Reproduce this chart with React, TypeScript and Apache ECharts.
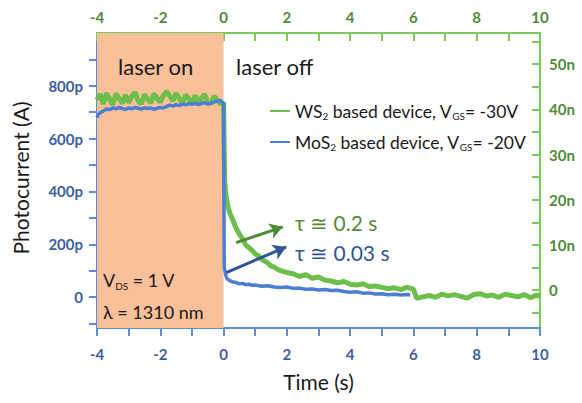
import React, { useEffect, useRef } from "react";
import * as echarts from "echarts";

// WS2 based device (right axis, nA)
const ws2Time = [
  -4, -3.9, -3.8, -3.7, -3.6, -3.5, -3.4, -3.3, -3.2, -3.1, -3, -2.9, -2.8, -2.7, -2.6, -2.5, -2.4, -2.3, -2.2, -2.1,
  -2, -1.9, -1.8, -1.7, -1.6, -1.5, -1.4, -1.3, -1.2, -1.1, -1, -0.9, -0.8, -0.7, -0.6, -0.5, -0.4, -0.3, -0.2, -0.1,
  0, 0.03, 0.06, 0.1, 0.15, 0.2, 0.3, 0.4, 0.5, 0.6, 0.7, 0.8, 0.9, 1, 1.1, 1.2, 1.3, 1.4, 1.5, 1.6, 1.7, 1.8, 1.9,
  2, 2.2, 2.4, 2.6, 2.8, 3, 3.2, 3.4, 3.6, 3.8, 4, 4.2, 4.4, 4.6, 4.8, 5, 5.2, 5.4, 5.6, 5.8, 6, 6.1, 6.3, 6.5,
  6.7, 6.9, 7.1, 7.3, 7.5, 7.7, 7.9, 8.1, 8.3, 8.5, 8.7, 8.9, 9.1, 9.3, 9.5, 9.7, 9.9, 10,
];
const ws2Current = [
  42.1, 43.4, 41.2, 43.6, 42.3, 41.0, 43.5, 42.4, 41.3, 43.2, 41.5, 42.9, 43.8, 41.9, 41.2, 43.3, 42.3, 41.4, 43.5, 42.4,
  41.6, 43.1, 44.0, 42.9, 41.9, 43.6, 42.4, 41.3, 43.2, 42.3, 41.4, 43.1, 41.2, 42.5, 43.3, 41.6, 41.3, 42.9, 42.1, 41.2,
  41.5, 25.0, 21.8, 19.8, 18.2, 17.0, 15.4, 13.6, 12.4, 11.3, 10.0, 9.4, 8.8, 8.0, 7.6, 6.8, 6.4, 6.0, 5.3, 5.1, 4.6, 4.3, 4.1,
  3.9, 3.6, 3.0, 3.4, 2.6, 2.9, 2.2, 2.0, 1.6, 1.9, 1.3, 1.1, 1.4, 0.8, 0.9, 0.6, 0.3, 0.5, 0.1, 0.6, 0.2, -1.8, -1.5, -1.2,
  -1.6, -0.9, -1.3, -1.0, -1.4, -1.8, -1.0, -0.8, -1.3, -1.1, -1.6, -0.9, -1.2, -1.5, -1.0, -1.7, -1.1, -1.4,
];

// MoS2 based device (left axis, pA)
const mos2Time = [
  -4, -3.95, -3.9, -3.8, -3.7, -3.6, -3.5, -3.4, -3.3, -3.2, -3.1, -3, -2.9, -2.8, -2.7, -2.6, -2.5, -2.4, -2.3, -2.2,
  -2.1, -2, -1.9, -1.8, -1.7, -1.6, -1.5, -1.4, -1.3, -1.2, -1.1, -1, -0.9, -0.8, -0.7, -0.6, -0.5, -0.4, -0.3, -0.2,
  -0.1, -0.04, 0, 0.02, 0.05, 0.08, 0.12, 0.2, 0.3, 0.4, 0.5, 0.6, 0.7, 0.8, 0.9, 1, 1.2, 1.4, 1.6, 1.8, 2, 2.2, 2.4,
  2.6, 2.8, 3, 3.2, 3.4, 3.6, 3.8, 4, 4.2, 4.4, 4.6, 4.8, 5, 5.2, 5.4, 5.6, 5.8, 5.9,
];
const mos2Current = [
  680, 692, 698, 705, 712, 710, 716, 713, 718, 714, 711, 716, 713, 718, 715, 712, 717, 714, 716, 711,
  715, 718, 716, 722, 727, 723, 729, 725, 731, 728, 733, 730, 734, 729, 733, 736, 731, 735, 738, 742,
  745, 738, 730, 112, 95, 78, 68, 62, 57, 55, 50, 52, 47, 49, 45, 46, 41, 43, 38, 36, 38, 33, 34,
  30, 31, 27, 29, 25, 26, 21, 18, 20, 15, 16, 12, 13, 9, 11, 8, 10, 9,
];

const leftLabels = [0, 200, 400, 600, 800];
const leftTicks = [-100, 0, 100, 200, 300, 400, 500, 600, 700, 800, 900];
const rightLabels = [0, 10, 20, 30, 40, 50];
const rightTicks = [-5, 0, 5, 10, 15, 20, 25, 30, 35, 40, 45, 50, 55];

const seriesNames = ["WS2 based device, VGS= -30V", "MoS2 based device, VGS= -20V"];

const FONT = "Lato, 'Open Sans', sans-serif";
const BLUE_LINE = "#4a7fd3";
const BLUE_AXIS = "#5b8ed6";
const BLUE_TEXT = "#3d5f9f";
const BLUE_DARK = "#2f5597";
const GREEN_LINE = "#6bbf4a";
const GREEN_AXIS = "#7acb5c";
const GREEN_TEXT = "#4e8c3c";
const GREEN_DARK = "#4f8b34";
const ORANGE = "#f9c09a";

export default function App() {
  const ref = useRef<HTMLDivElement>(null);

  useEffect(() => {
    document.body.style.margin = "0";
    if (!ref.current) return;
    const chart = echarts.init(ref.current, null, { renderer: "svg" });

    const ws2Data = ws2Time.map((t, i) => [t, ws2Current[i]]);
    const mos2Data = mos2Time.map((t, i) => [t, mos2Current[i]]);

    const labelBase = { fontFamily: FONT, fontSize: 15, fontWeight: "bold" as const };

    chart.setOption({
      animation: false,
      backgroundColor: "#ffffff",
      grid: { left: 97, right: 42, top: 33, bottom: 75, containLabel: false },
      legend: {
        orient: "vertical",
        left: 270,
        top: 102,
        padding: 0,
        itemWidth: 20,
        itemHeight: 2,
        icon: "rect",
        itemGap: 12,
        data: seriesNames,
        formatter: (name: string) =>
          name.startsWith("WS2")
            ? "{n|WS}{s|2}{n| based device, V}{s|GS}{n|= -30V}"
            : "{n|MoS}{s|2}{n| based device, V}{s|GS}{n|= -20V}",
        textStyle: {
          fontFamily: FONT,
          color: "#1a1a1a",
          rich: {
            n: { fontFamily: FONT, fontSize: 17.5, color: "#1a1a1a", lineHeight: 20 },
            s: { fontFamily: FONT, fontSize: 10, color: "#1a1a1a", lineHeight: 20, verticalAlign: "bottom", padding: [8, 0, 0, 0] },
          },
        },
      },
      xAxis: [
        {
          type: "value",
          position: "bottom",
          min: -4,
          max: 10,
          interval: 2,
          name: "Time (s)",
          nameLocation: "middle",
          nameGap: 43,
          nameTextStyle: { fontFamily: FONT, fontSize: 21, color: "#1a1a1a" },
          axisLine: { show: true, onZero: false, lineStyle: { color: BLUE_AXIS, width: 2 } },
          axisTick: { show: true, inside: false, length: 8, lineStyle: { color: BLUE_AXIS, width: 2 } },
          minorTick: { show: true, splitNumber: 2, length: 8, lineStyle: { color: BLUE_AXIS, width: 2 } },
          axisLabel: { ...labelBase, color: BLUE_TEXT, margin: 18 },
          splitLine: { show: false },
        },
        {
          type: "value",
          position: "top",
          min: -4,
          max: 10,
          interval: 2,
          axisLine: { show: true, onZero: false, lineStyle: { color: GREEN_AXIS, width: 2 } },
          axisTick: { show: true, inside: true, length: 8, lineStyle: { color: GREEN_AXIS, width: 2 } },
          minorTick: { show: true, splitNumber: 2, length: 8, lineStyle: { color: GREEN_AXIS, width: 2 } },
          axisLabel: { ...labelBase, color: GREEN_TEXT, margin: 9 },
          splitLine: { show: false },
        },
      ],
      yAxis: [
        {
          type: "value",
          position: "left",
          min: -117,
          max: 1000,
          axisLine: { show: true, onZero: false, lineStyle: { color: BLUE_AXIS, width: 2 } },
          axisTick: { show: true, inside: false, length: 8, customValues: leftTicks, lineStyle: { color: BLUE_AXIS, width: 2 } },
          axisLabel: {
            ...labelBase,
            color: BLUE_TEXT,
            margin: 14,
            customValues: leftLabels,
            formatter: (v: number) => (v === 0 ? "0" : v + "p"),
          },
          splitLine: { show: false },
        },
        {
          type: "value",
          position: "right",
          min: -8.4,
          max: 56.9,
          axisLine: { show: true, onZero: false, lineStyle: { color: GREEN_AXIS, width: 2 } },
          axisTick: { show: true, inside: true, length: 8, customValues: rightTicks, lineStyle: { color: GREEN_AXIS, width: 2 } },
          axisLabel: {
            ...labelBase,
            color: GREEN_TEXT,
            margin: 9,
            customValues: rightLabels,
            formatter: (v: number) => (v === 0 ? "0" : v + "n"),
          },
          splitLine: { show: false },
        },
      ],
      series: [
        {
          name: seriesNames[0],
          type: "line",
          xAxisIndex: 0,
          yAxisIndex: 1,
          data: ws2Data,
          showSymbol: false,
          symbol: "none",
          color: GREEN_LINE,
          lineStyle: { color: GREEN_LINE, width: 5 },
          z: 3,
          markArea: {
            silent: true,
            itemStyle: { color: ORANGE },
            data: [[{ xAxis: -4 }, { xAxis: 0 }]],
          },
          markLine: {
            silent: true,
            symbol: ["none", "arrow"],
            symbolSize: [12, 13],
            lineStyle: { color: GREEN_DARK, width: 3, type: "solid" },
            label: { show: false },
            data: [[{ coord: [0.4, 10.5] }, { coord: [1.87, 14.0] }]],
          },
        },
        {
          name: seriesNames[1],
          type: "line",
          xAxisIndex: 0,
          yAxisIndex: 0,
          data: mos2Data,
          showSymbol: false,
          symbol: "none",
          color: BLUE_LINE,
          lineStyle: { color: BLUE_LINE, width: 3.5 },
          z: 4,
          markLine: {
            silent: true,
            symbol: ["none", "arrow"],
            symbolSize: [12, 13],
            lineStyle: { color: BLUE_DARK, width: 3, type: "solid" },
            label: { show: false },
            data: [[{ coord: [0.085, 93] }, { coord: [1.98, 190] }]],
          },
        },
      ],
      graphic: [
        {
          type: "text",
          z: 100,
          x: 20,
          y: 178,
          rotation: Math.PI / 2,
          style: {
            text: "Photocurrent (A)",
            fontFamily: FONT,
            fontSize: 21,
            fill: "#1a1a1a",
            align: "center",
            verticalAlign: "middle",
          },
        },
        {
          type: "text",
          z: 100,
          left: 118,
          top: 55,
          style: { text: "laser on", fontFamily: FONT, fontSize: 22, fill: "#1a1a1a" },
        },
        {
          type: "text",
          z: 100,
          left: 236,
          top: 55,
          style: { text: "laser off", fontFamily: FONT, fontSize: 22, fill: "#1a1a1a" },
        },
        {
          type: "text",
          z: 100,
          left: 295,
          top: 212,
          style: { text: "τ ≅ 0.2 s", fontFamily: FONT, fontSize: 21, fill: GREEN_TEXT },
        },
        {
          type: "text",
          z: 100,
          left: 295,
          top: 242,
          style: { text: "τ ≅ 0.03 s", fontFamily: FONT, fontSize: 21, fill: BLUE_DARK },
        },
        {
          type: "text",
          z: 100,
          left: 103,
          top: 271,
          style: {
            text: "{n|V}{s|DS}{n| = 1 V}",
            fontFamily: FONT,
            rich: {
              n: { fontFamily: FONT, fontSize: 18, fill: "#1a1a1a", lineHeight: 22 },
              s: { fontFamily: FONT, fontSize: 10, fill: "#1a1a1a", lineHeight: 22, verticalAlign: "bottom", padding: [9, 0, 0, 0] },
            },
          },
        },
        {
          type: "text",
          z: 100,
          left: 103,
          top: 303,
          style: { text: "λ = 1310 nm", fontFamily: FONT, fontSize: 18, fill: "#1a1a1a" },
        },
      ],
    });

    return () => chart.dispose();
  }, []);

  return <div ref={ref} style={{ width: 582, height: 403 }} />;
}
